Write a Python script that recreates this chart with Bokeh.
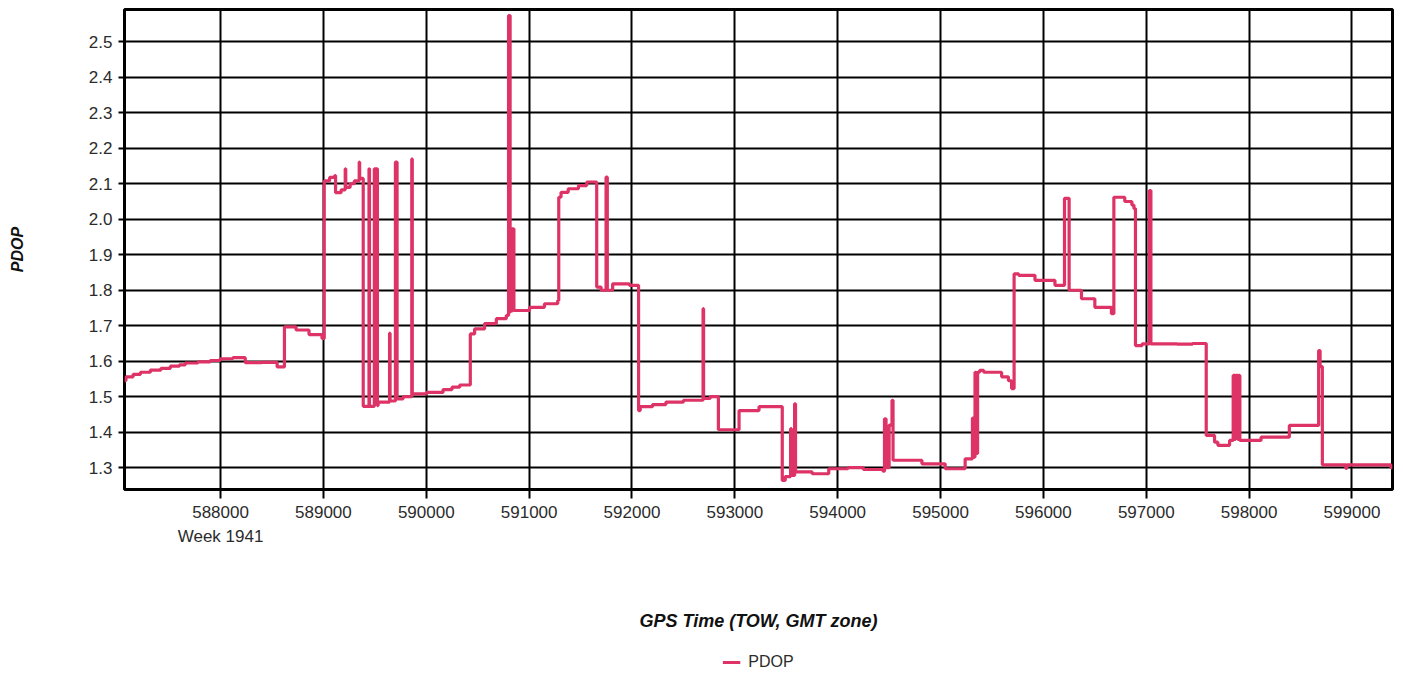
from bokeh.plotting import figure
from bokeh.layouts import column
from bokeh.models import Range1d, FixedTicker, NumeralTickFormatter, Legend, LegendItem, LinearAxis
from bokeh.embed import file_html
from bokeh.resources import INLINE

# GPS time of week (s) and PDOP (step series)
tow = [
    587066, 587080, 587150, 587221, 587318, 587420, 587512, 587600, 587657, 587780,
    587899, 587997, 588120, 588240, 588400, 588550, 588621, 588734, 588860, 588986,
    589008, 589060, 589110, 589118, 589172, 589212, 589217, 589260, 589300, 589348, 589352,
    589387, 589443, 589448, 589495, 589525, 589532, 589643, 589648, 589700, 589716,
    589775, 589859, 589864, 590002, 590163, 590250, 590325,
    590428, 590470, 590567, 590681, 590778, 590800, 590815, 590822, 590830, 590838,
    590852, 591004, 591149, 591278,
    591288, 591310, 591380, 591480, 591560, 591657, 591700, 591748, 591760, 591812, 591974,
    592064, 592080, 592200, 592330, 592500, 592691, 592696, 592760, 592840, 593041, 593235,
    593461, 593490, 593542, 593550, 593581, 593590, 593752, 593913, 594100, 594250,
    594440, 594455, 594470, 594500, 594528, 594538, 594819, 595045, 595239, 595310,
    595318, 595335, 595345,
    595360, 595380, 595420, 595594, 595660, 595691,
    595715, 595760, 595918, 596112, 596205, 596250, 596370, 596500, 596661, 596685,
    596791, 596860, 596880,
    596895, 596960, 597030, 597045, 597300, 597450,
    597583, 597664, 597696, 597810, 597845, 597860, 597868, 597890, 597900, 597910,
    598116, 598391, 598676, 598690, 598712, 598940, 598950, 599380, 599394,
]
pdop = [
    1.545, 1.556, 1.563, 1.569, 1.575, 1.580, 1.586, 1.590, 1.595, 1.598,
    1.602, 1.607, 1.610, 1.596, 1.597, 1.584, 1.697, 1.688, 1.675, 1.664,
    2.108, 2.118, 2.123, 2.075, 2.083, 2.142, 2.090, 2.100, 2.108, 2.161, 2.115,
    1.473, 2.142, 1.473, 2.142, 1.475, 1.485, 1.679, 1.488, 2.161, 1.494,
    1.500, 2.170, 1.508, 1.512, 1.520, 1.527, 1.533,
    1.677, 1.691, 1.706, 1.720, 1.729, 2.574, 1.740, 1.973, 1.742, 1.973,
    1.743, 1.752, 1.762, 1.771,
    2.062, 2.076, 2.086, 2.095, 2.105, 1.809, 1.800, 2.119, 1.800, 1.818, 1.814,
    1.461, 1.472, 1.478, 1.485, 1.490, 1.748, 1.495, 1.500, 1.407, 1.461, 1.472,
    1.264, 1.275, 1.410, 1.278, 1.480, 1.288, 1.283, 1.297, 1.300, 1.295,
    1.290, 1.438, 1.300, 1.420, 1.490, 1.321, 1.311, 1.297, 1.325, 1.440,
    1.330, 1.569, 1.340,
    1.569, 1.574, 1.569, 1.556, 1.545, 1.523,
    1.846, 1.842, 1.828, 1.814, 2.059, 1.800, 1.776, 1.752, 1.734, 2.062,
    2.050, 2.040, 2.030,
    1.644, 1.649, 2.081, 1.649, 1.648, 1.650,
    1.391, 1.372, 1.363, 1.377, 1.560, 1.380, 1.560, 1.380, 1.560, 1.377,
    1.386, 1.419, 1.630, 1.585, 1.308, 1.298, 1.308, 1.300, 1.300,
]

x_ticks = [588000, 589000, 590000, 591000, 592000, 593000, 594000, 595000,
           596000, 597000, 598000, 599000]
y_ticks = [1.3, 1.4, 1.5, 1.6, 1.7, 1.8, 1.9, 2.0, 2.1, 2.2, 2.3, 2.4, 2.5]
week_tick = [588000]
week_label = "Week 1941"
x_min, x_max = 587066, 599394
y_min, y_max = 1.2386, 2.591
x_title = "GPS Time (TOW, GMT zone)"
y_title = "PDOP"
series_name = "PDOP"

LINE = "#de3366"
FONT = "Liberation Sans"
TXT = "#2b2b2b"

p = figure(width=1400, height=643, output_backend="svg", toolbar_location=None,
           x_range=Range1d(x_min, x_max), y_range=Range1d(y_min, y_max),
           min_border_left=124, min_border_right=5, min_border_top=9,
           min_border_bottom=154)
p.background_fill_color = "white"
p.border_fill_color = "white"
p.outline_line_color = "black"
p.outline_line_width = 3

r = p.step(tow, pdop, mode="after", line_color=LINE, line_width=3.2)

for ax in (p.xaxis[0], p.yaxis[0]):
    ax.axis_line_color = None
    ax.major_tick_line_color = "black"
    ax.major_tick_line_width = 2
    ax.major_tick_in = 0
    ax.minor_tick_line_color = None
    ax.major_label_text_font = FONT
    ax.major_label_text_font_size = "17px"
    ax.major_label_text_color = TXT

p.xaxis.ticker = FixedTicker(ticks=x_ticks)
p.xaxis.formatter = NumeralTickFormatter(format="0")
p.xaxis.major_tick_out = 9
p.xaxis.major_label_standoff = 7

p.yaxis.ticker = FixedTicker(ticks=y_ticks)
p.yaxis.formatter = NumeralTickFormatter(format="0.0")
p.yaxis.major_tick_out = 6
p.yaxis.major_label_standoff = 6
p.yaxis.axis_label = y_title
p.yaxis.axis_label_text_font = FONT
p.yaxis.axis_label_text_font_style = "bold italic"
p.yaxis.axis_label_text_font_size = "16px"
p.yaxis.axis_label_text_color = "#111111"
p.yaxis.axis_label_standoff = 60

# second axis below: "Week 1941" under the first tick, plus the x title
week_axis = LinearAxis(ticker=FixedTicker(ticks=week_tick),
                       major_label_overrides={week_tick[0]: week_label},
                       axis_line_color=None, major_tick_line_color=None,
                       minor_tick_line_color=None, major_tick_out=0, major_tick_in=0,
                       major_label_standoff=6,
                       major_label_text_font=FONT, major_label_text_font_size="17px",
                       major_label_text_color=TXT,
                       axis_label=x_title,
                       axis_label_standoff=62,
                       axis_label_text_font=FONT, axis_label_text_font_size="18px",
                       axis_label_text_font_style="bold italic",
                       axis_label_text_color="#111111")
p.add_layout(week_axis, "below")

p.xgrid.ticker = FixedTicker(ticks=x_ticks)
p.ygrid.ticker = FixedTicker(ticks=y_ticks)
for g in (p.xgrid[0], p.ygrid[0]):
    g.grid_line_color = "black"
    g.grid_line_width = 2
    g.grid_line_alpha = 1.0

# legend strip under the chart (a one-sample proxy line supplies the legend glyph)
leg = figure(width=1400, height=32, output_backend="svg", toolbar_location=None,
             x_axis_location=None, y_axis_location=None,
             x_range=Range1d(0, 1), y_range=Range1d(0, 1),
             min_border_left=94, min_border_right=8, min_border_top=0,
             min_border_bottom=0)
leg.outline_line_color = None
leg.xgrid.visible = False
leg.ygrid.visible = False
leg.background_fill_color = "white"
leg.border_fill_color = "white"
legend_glyph = leg.line(tow[:1], pdop[:1], line_color=LINE, line_width=3.2)
legend = Legend(items=[LegendItem(label=series_name, renderers=[legend_glyph])],
                location="bottom_center", orientation="horizontal",
                margin=3, padding=0, spacing=0,
                glyph_width=18, glyph_height=20, label_standoff=8,
                label_text_font=FONT, label_text_font_size="16px",
                label_text_color=TXT, border_line_color=None,
                background_fill_alpha=0)
leg.add_layout(legend, "center")

open("out.html", "w").write(file_html(column(p, leg, spacing=0), INLINE))
